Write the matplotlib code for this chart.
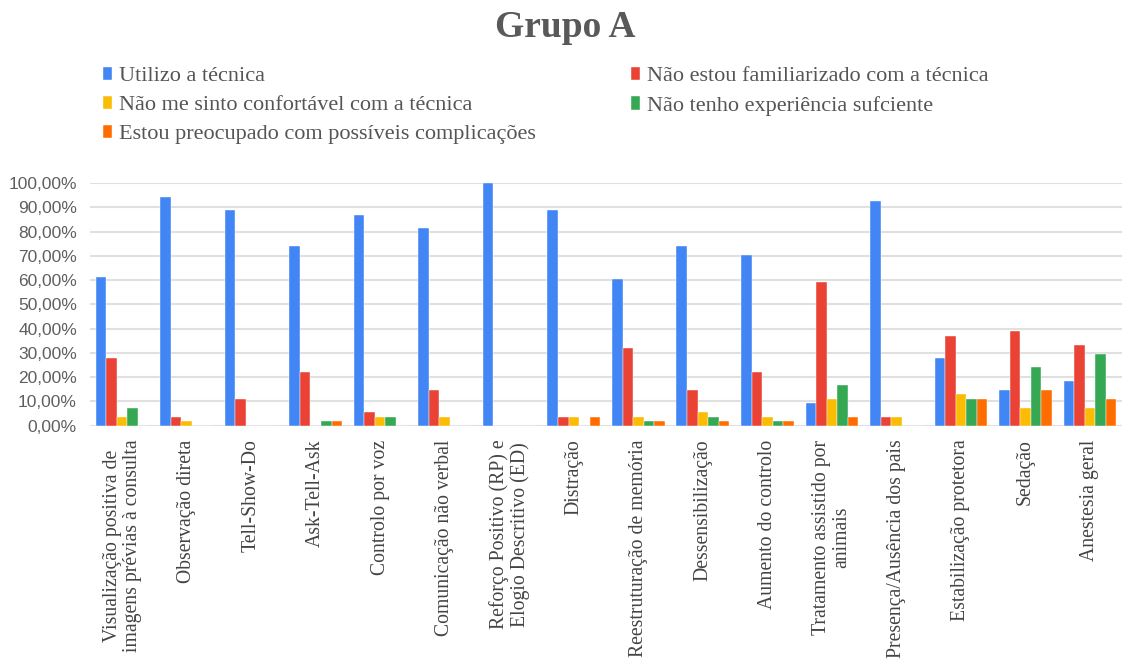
import matplotlib
matplotlib.use('Agg')
import matplotlib.pyplot as plt
import matplotlib.ticker as mticker
import numpy as np

# categorias (eixo x)
categorias = [
    'Visualização positiva de\nimagens prévias à consulta',
    'Observação direta',
    'Tell-Show-Do',
    'Ask-Tell-Ask',
    'Controlo por voz',
    'Comunicação não verbal',
    'Reforço Positivo (RP) e\nElogio Descritivo (ED)',
    'Distração',
    'Reestruturação de memória',
    'Dessensibilização',
    'Aumento do controlo',
    'Tratamento assistido por\nanimais',
    'Presença/Ausência dos pais',
    'Estabilização protetora',
    'Sedação',
    'Anestesia geral',
]

series_nomes = [
    'Utilizo a técnica',
    'Não estou familiarizado com a técnica',
    'Não me sinto confortável com a técnica',
    'Não tenho experiência sufciente',
    'Estou preocupado com possíveis complicações',
]

# valores em %
utilizo = [61.1, 94.4, 88.9, 74.1, 87.0, 81.5, 100.0, 88.9, 60.4, 74.1, 70.4, 9.26, 92.6, 27.8, 14.8, 18.5]
nao_familiarizado = [27.8, 3.7, 11.1, 22.2, 5.56, 14.8, 0, 3.7, 32.1, 14.8, 22.2, 59.3, 3.7, 37.0, 38.9, 33.3]
nao_confortavel = [3.7, 1.85, 0, 0, 3.7, 3.7, 0, 3.7, 3.7, 5.56, 3.7, 11.1, 3.7, 13.0, 7.4, 7.4]
sem_experiencia = [7.4, 0, 0, 1.85, 3.7, 0, 0, 0, 1.85, 3.7, 1.85, 16.7, 0, 11.1, 24.1, 29.6]
complicacoes = [0, 0, 0, 1.85, 0, 0, 0, 3.7, 1.85, 1.85, 1.85, 3.7, 0, 11.1, 14.8, 11.1]

cores = ['#4285F4', '#EA4335', '#FBBC04', '#34A853', '#FF6D01']

series = [utilizo, nao_familiarizado, nao_confortavel, sem_experiencia, complicacoes]

fig = plt.figure(figsize=(11.3, 6.69), dpi=100)
ax = fig.add_axes([0.0796, 0.3637, 0.9134, 0.3628])

x = np.arange(len(categorias))
w = 0.163
handles = []
for i, (vals, cor, nome) in enumerate(zip(series, cores, series_nomes)):
    b = ax.bar(x + (i - 2) * w, np.array(vals) / 100, w, color=cor, label=nome,
               edgecolor='white', linewidth=0.3, zorder=3)
    handles.append(b)

ax.set_xlim(-0.5, len(categorias) - 0.5)
ax.set_ylim(0, 1.0)
ax.yaxis.set_major_locator(mticker.MultipleLocator(0.1))
ax.yaxis.set_major_formatter(mticker.FuncFormatter(lambda v, p: f'{v*100:.2f}%'.replace('.', ',')))
ax.grid(axis='y', color='#e0e0e0', linewidth=1.5, zorder=0)
for s in ax.spines.values():
    s.set_visible(False)
ax.tick_params(axis='both', length=0)
ax.tick_params(axis='y', labelsize=12.5, labelcolor='#5f5f5f', pad=9.4)
for lab in ax.get_yticklabels():
    lab.set_family('Liberation Sans')

ax.set_xticks(x)
ax.set_xticklabels(categorias, rotation=90, fontsize=14.2, family='Liberation Serif',
                   color='#444444', ha='center', va='top', multialignment='center',
                   linespacing=1.1)
ax.tick_params(axis='x', pad=10)

fig.suptitle('Grupo A', x=0.5, y=0.985, fontsize=27, fontweight='bold',
             family='Liberation Serif', color='#595959')

ordem = [0, 2, 4, 1, 3]
leg = fig.legend([handles[i] for i in ordem], [series_nomes[i] for i in ordem],
                 ncol=2, loc='upper left', bbox_to_anchor=(0.0912, 0.900),
                 frameon=False, prop={'family': 'Liberation Serif', 'size': 16},
                 handlelength=0.4, handleheight=0.55, handletextpad=0.3,
                 borderpad=0, borderaxespad=0,
                 columnspacing=4.3, labelspacing=0.42, labelcolor='#555555')

plt.savefig('out.png', dpi=100)
